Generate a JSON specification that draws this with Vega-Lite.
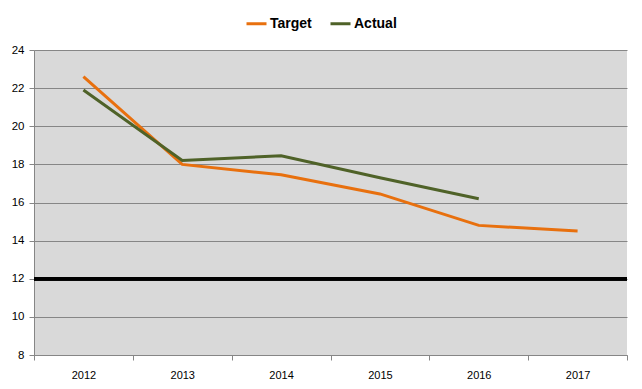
{
  "$schema": "https://vega.github.io/schema/vega-lite/v6.json",
  "width": 593,
  "height": 305,
  "autosize": "none",
  "padding": {"left": 34, "top": 50, "right": 15, "bottom": 34},
  "background": "white",
  "config": {
    "view": {"fill": "#D9D9D9", "stroke": null},
    "font": "Liberation Sans",
    "axisY": {
      "title": null,
      "values": [8, 10, 12, 14, 16, 18, 20, 22, 24],
      "labelOverlap": false,
      "labelFontSize": 11.5,
      "labelColor": "#000000",
      "labelPadding": 5,
      "tickColor": "#868686",
      "tickSize": 5,
      "domainColor": "#868686",
      "gridColor": "#868686",
      "gridOpacity": 1,
      "gridWidth": 1
    }
  },
  "data": {
    "values": [
      {"year": "2012", "series": "Target", "value": 22.6},
      {"year": "2013", "series": "Target", "value": 18.0},
      {"year": "2014", "series": "Target", "value": 17.45},
      {"year": "2015", "series": "Target", "value": 16.45},
      {"year": "2016", "series": "Target", "value": 14.8},
      {"year": "2017", "series": "Target", "value": 14.5},
      {"year": "2012", "series": "Actual", "value": 21.9},
      {"year": "2013", "series": "Actual", "value": 18.2},
      {"year": "2014", "series": "Actual", "value": 18.45},
      {"year": "2015", "series": "Actual", "value": 17.3},
      {"year": "2016", "series": "Actual", "value": 16.2}
    ]
  },
  "layer": [
    {
      "mark": {"type": "line", "strokeWidth": 3},
      "encoding": {
        "x": {
          "field": "year",
          "type": "nominal",
          "bandPosition": 0.5,
          "scale": {"type": "band", "paddingInner": 0, "paddingOuter": 0},
          "axis": {
            "title": null,
            "labelAngle": 0,
            "labelFontSize": 11,
            "labelColor": "#000000",
            "labelPadding": 9,
            "tickBand": "extent",
            "tickColor": "#868686",
            "tickSize": 5,
            "domainColor": "#868686",
            "grid": false
          }
        },
        "y": {
          "field": "value",
          "type": "quantitative",
          "scale": {"domain": [8, 24], "nice": false, "zero": false},
          "axis": {"values": [8, 10, 12, 14, 16, 18, 20, 22, 24], "labelOverlap": false}
        },
        "color": {
          "field": "series",
          "type": "nominal",
          "scale": {"domain": ["Target", "Actual"], "range": ["#E8700E", "#4F6228"]},
          "legend": {
            "title": null,
            "orient": "none",
            "direction": "horizontal",
            "legendX": 211,
            "legendY": -38,
            "symbolType": "stroke",
            "symbolStrokeWidth": 3,
            "symbolSize": 400,
            "labelFontSize": 14,
            "labelFontWeight": "bold",
            "labelColor": "#000000",
            "columnPadding": 12,
            "labelOffset": 2
          }
        }
      }
    },
    {
      "mark": {"type": "rule", "color": "#000000", "strokeWidth": 3},
      "encoding": {"y": {"datum": 12, "type": "quantitative", "axis": {"values": [8, 10, 12, 14, 16, 18, 20, 22, 24], "labelOverlap": false}}}
    }
  ]
}
